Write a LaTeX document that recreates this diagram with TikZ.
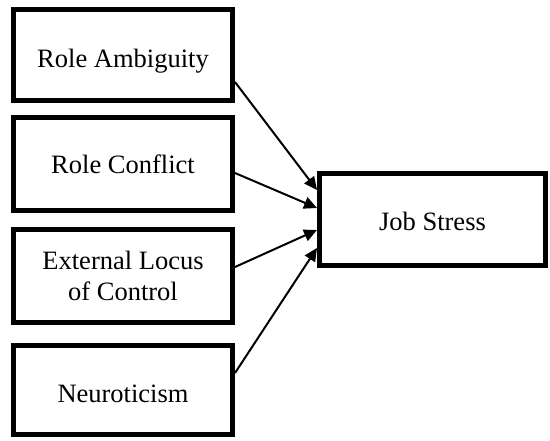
\documentclass[tikz,border=0pt]{standalone}
\usepackage{fontspec}
\setmainfont{Liberation Serif}
\usetikzlibrary{arrows.meta}
\begin{document}
\begin{tikzpicture}[x=1pt,y=1pt,
  box/.style={draw=black, line width=5pt, fill=white, inner sep=0pt, align=center,
    font=\fontsize{26.5}{31.5}\selectfont, minimum width=219pt},
  arr/.style={line width=2pt, -{Triangle[length=13pt,width=12pt]}}]
\useasboundingbox (0,0) rectangle (550,-440);
\node[box, minimum height=91pt, text height=24pt, text depth=0pt] (b1) at (123,-55) {Role Ambiguity};
\node[box, minimum height=93pt, text height=18pt, text depth=0pt] (b2) at (123,-164) {Role Conflict};
\node[box, minimum height=93pt] (b3) at (123,-276) {External Locus\\of Control};
\node[box, minimum height=89pt, text height=24pt, text depth=0pt] (b4) at (123,-390) {Neuroticism};
\node[box, minimum height=92pt, minimum width=226pt, text height=21pt, text depth=0pt] (js) at (432.5,-219.5) {Job Stress};
\draw[arr] ([yshift=-27pt]b1.east) -- ([yshift=29.5pt]js.west);
\draw[arr] ([yshift=-9pt]b2.east) -- ([yshift=11.5pt]js.west);
\draw[arr] ([yshift=9pt]b3.east) -- ([yshift=-10.5pt]js.west);
\draw[arr] ([yshift=17pt]b4.east) -- ([yshift=-28.5pt]js.west);
\end{tikzpicture}
\end{document}
